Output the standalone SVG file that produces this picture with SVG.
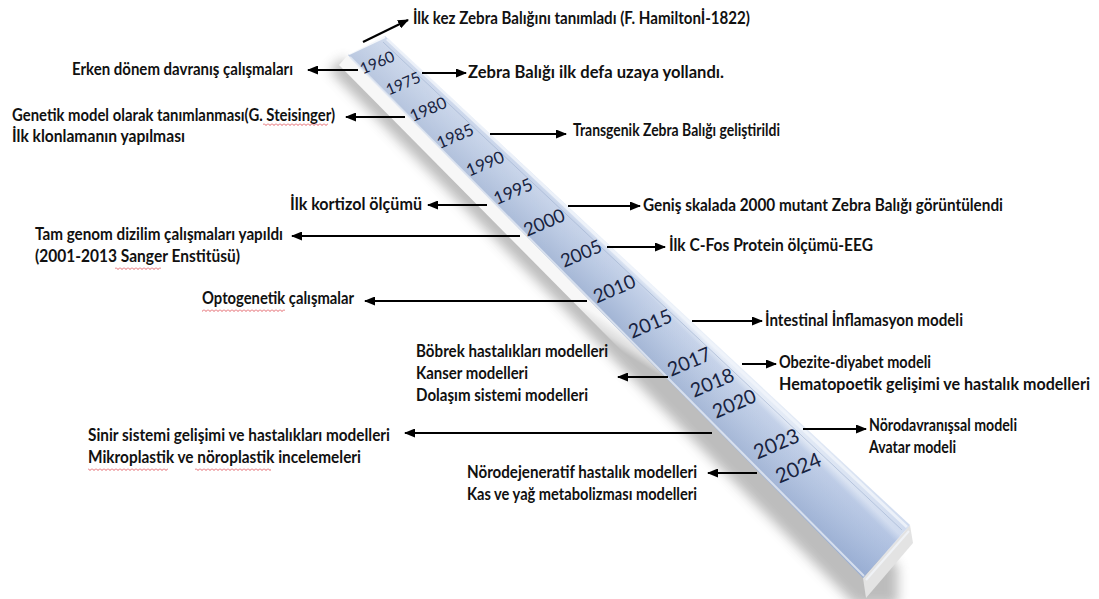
<svg xmlns="http://www.w3.org/2000/svg" width="1099" height="599" viewBox="0 0 1099 599">
<style>
.lbl{font-family:Lato,"Liberation Sans",sans-serif;font-weight:700;font-size:16.5px;fill:#111}
.yr{font-family:Lato,"Liberation Sans",sans-serif;font-weight:400;fill:#18233f;text-anchor:middle;dominant-baseline:central}
.con{stroke:#000;stroke-width:2.2;fill:none;marker-end:url(#ah)}
</style>
<defs>
<marker id="ah" markerUnits="userSpaceOnUse" markerWidth="11" markerHeight="9" refX="10" refY="4.5" orient="auto"><path d="M0,0 L11,4.5 L0,9 Z" fill="#000"/></marker>
<linearGradient id="face" gradientUnits="userSpaceOnUse" x1="589" y1="300" x2="627" y2="262">
<stop offset="0" stop-color="#a1b4d4"/>
<stop offset="0.45" stop-color="#b5c5e0"/>
<stop offset="0.85" stop-color="#c5d2e9"/>
<stop offset="1" stop-color="#e9eff8"/>
</linearGradient>
<linearGradient id="faceLen" gradientUnits="userSpaceOnUse" x1="365" y1="45" x2="885" y2="560">
<stop offset="0" stop-color="#ffffff" stop-opacity="0.25"/>
<stop offset="0.5" stop-color="#ffffff" stop-opacity="0"/>
<stop offset="1" stop-color="#7f9bd0" stop-opacity="0.25"/>
</linearGradient>
<linearGradient id="side" gradientUnits="userSpaceOnUse" x1="600" y1="316" x2="590" y2="332">
<stop offset="0" stop-color="#f7f7f7"/>
<stop offset="0.6" stop-color="#dedede"/>
<stop offset="1" stop-color="#bdbdbd"/>
</linearGradient>
<filter id="blur" x="-20%" y="-20%" width="140%" height="140%"><feGaussianBlur stdDeviation="6"/></filter>
<pattern id="wave" width="4" height="3" patternUnits="userSpaceOnUse"><path d="M0,0.5 L2,2.5 L4,0.5" stroke="#d9363e" stroke-width="0.8" fill="none"/></pattern>
</defs>
<rect width="1099" height="599" fill="#fff"/>

<g id="timeline-bar">
<polygon points="336,64 862,599 905,599 905,560 350,52" fill="#6d6d6d" opacity="0.45" filter="url(#blur)" transform="translate(-7,6)"/>
<polygon points="348,55 863,578 866,598 339,65" fill="url(#side)"/>
<polygon points="863,578 910,525 913,543 866,598" fill="#e3e3e3"/>
<polygon points="348,55 385,36 910,525 863,578" fill="url(#face)"/>
<polygon points="348,55 385,36 910,525 863,578" fill="url(#faceLen)"/>
<line x1="349" y1="54" x2="385" y2="37" stroke="#ffffff" stroke-width="2" opacity="0.8"/>
<line x1="387" y1="39" x2="907" y2="527" stroke="#f1f5fb" stroke-width="3" opacity="0.85"/>
<line x1="383" y1="42" x2="902" y2="530" stroke="#9fb1cf" stroke-width="1" opacity="0.6"/>
<line x1="350" y1="57" x2="864" y2="576" stroke="#e4eaf4" stroke-width="2" opacity="0.8"/>
<line x1="866" y1="580" x2="909" y2="531" stroke="#f3f6fb" stroke-width="2" opacity="0.8"/>
</g>

<g id="years">
<text class="yr" x="377" y="62" font-size="15.5" transform="rotate(-23 377 62)">1960</text>
<text class="yr" x="403" y="83" font-size="15.5" transform="rotate(-23 403 83)">1975</text>
<text class="yr" x="428" y="109" font-size="16.5" transform="rotate(-23 428 109)">1980</text>
<text class="yr" x="455" y="136" font-size="16.5" transform="rotate(-23 455 136)">1985</text>
<text class="yr" x="485" y="163" font-size="17" transform="rotate(-23 485 163)">1990</text>
<text class="yr" x="513" y="191" font-size="17.5" transform="rotate(-23 513 191)">1995</text>
<text class="yr" x="544" y="222" font-size="18.5" transform="rotate(-23 544 222)">2000</text>
<text class="yr" x="581" y="253" font-size="18.5" transform="rotate(-23 581 253)">2005</text>
<text class="yr" x="614" y="288" font-size="19" transform="rotate(-23 614 288)">2010</text>
<text class="yr" x="650" y="323" font-size="19.5" transform="rotate(-23 650 323)">2015</text>
<text class="yr" x="689" y="361" font-size="19.5" transform="rotate(-23 689 361)">2017</text>
<text class="yr" x="712" y="382" font-size="19.5" transform="rotate(-23 712 382)">2018</text>
<text class="yr" x="734" y="403" font-size="19.5" transform="rotate(-23 734 403)">2020</text>
<text class="yr" x="776" y="443" font-size="20.5" transform="rotate(-23 776 443)">2023</text>
<text class="yr" x="798" y="467" font-size="20.5" transform="rotate(-23 798 467)">2024</text>
</g>

<g id="connectors">
<line class="con" x1="363" y1="42" x2="408" y2="20"/>
<line class="con" x1="358" y1="70" x2="308" y2="70"/>
<line class="con" x1="422" y1="73" x2="466" y2="73"/>
<line class="con" x1="405" y1="117" x2="346" y2="117"/>
<line class="con" x1="490" y1="134" x2="566" y2="134"/>
<line class="con" x1="487" y1="205" x2="428" y2="205"/>
<line class="con" x1="568" y1="206" x2="640" y2="206"/>
<line class="con" x1="520" y1="236" x2="292" y2="236"/>
<line class="con" x1="607" y1="247" x2="665" y2="247"/>
<line class="con" x1="587" y1="301" x2="365" y2="301"/>
<line class="con" x1="692" y1="321" x2="762" y2="321"/>
<line class="con" x1="668" y1="377" x2="618" y2="377"/>
<line class="con" x1="742" y1="364" x2="776" y2="364"/>
<line class="con" x1="712" y1="433" x2="405" y2="433"/>
<line class="con" x1="803" y1="429" x2="866" y2="429"/>
<line class="con" x1="757" y1="473" x2="708" y2="473"/>
</g>

<g id="n1"><text class="lbl" x="413" y="24" textLength="337" lengthAdjust="spacingAndGlyphs">İlk kez Zebra Balığını tanımladı (F. Hamiltonİ-1822)</text></g>
<g id="n2"><text class="lbl" x="72" y="75" textLength="221" lengthAdjust="spacingAndGlyphs">Erken dönem davranış çalışmaları</text></g>
<g id="n3"><text class="lbl" x="468" y="78" textLength="256" lengthAdjust="spacingAndGlyphs">Zebra Balığı ilk defa uzaya yollandı.</text></g>
<g id="n4">
<text class="lbl" x="12" y="121" textLength="323" lengthAdjust="spacingAndGlyphs">Genetik model olarak tanımlanması(G. Steisinger)</text>
<text class="lbl" x="12" y="142" textLength="173" lengthAdjust="spacingAndGlyphs">İlk klonlamanın yapılması</text>
<rect x="263" y="123" width="65" height="3" fill="url(#wave)"/>
</g>
<g id="n5"><text class="lbl" x="573" y="136" textLength="207" lengthAdjust="spacingAndGlyphs">Transgenik Zebra Balığı geliştirildi</text></g>
<g id="n6"><text class="lbl" x="290" y="210" textLength="132" lengthAdjust="spacingAndGlyphs">İlk kortizol ölçümü</text></g>
<g id="n7"><text class="lbl" x="643" y="211" textLength="360" lengthAdjust="spacingAndGlyphs">Geniş skalada 2000 mutant Zebra Balığı görüntülendi</text></g>
<g id="n8">
<text class="lbl" x="35" y="240" textLength="248" lengthAdjust="spacingAndGlyphs">Tam genom dizilim çalışmaları yapıldı</text>
<text class="lbl" x="35" y="262" textLength="205" lengthAdjust="spacingAndGlyphs">(2001-2013 Sanger Enstitüsü)</text>
<rect x="115" y="267" width="46" height="3" fill="url(#wave)"/>
</g>
<g id="n9"><text class="lbl" x="669" y="251" textLength="204" lengthAdjust="spacingAndGlyphs">İlk C-Fos Protein ölçümü-EEG</text></g>
<g id="n10">
<text class="lbl" x="202" y="304" textLength="152" lengthAdjust="spacingAndGlyphs">Optogenetik çalışmalar</text>
<rect x="202" y="309" width="83" height="3" fill="url(#wave)"/>
</g>
<g id="n11"><text class="lbl" x="765" y="326" textLength="198" lengthAdjust="spacingAndGlyphs">İntestinal İnflamasyon modeli</text></g>
<g id="n12">
<text class="lbl" x="416" y="357" textLength="192" lengthAdjust="spacingAndGlyphs">Böbrek hastalıkları modelleri</text>
<text class="lbl" x="416" y="379" textLength="112" lengthAdjust="spacingAndGlyphs">Kanser modelleri</text>
<text class="lbl" x="416" y="401" textLength="172" lengthAdjust="spacingAndGlyphs">Dolaşım sistemi modelleri</text>
</g>
<g id="n13">
<text class="lbl" x="779" y="368" textLength="152" lengthAdjust="spacingAndGlyphs">Obezite-diyabet modeli</text>
<text class="lbl" x="779" y="390" textLength="311" lengthAdjust="spacingAndGlyphs">Hematopoetik gelişimi ve hastalık modelleri</text>
</g>
<g id="n14">
<text class="lbl" x="88" y="441" textLength="302" lengthAdjust="spacingAndGlyphs">Sinir sistemi gelişimi ve hastalıkları modelleri</text>
<text class="lbl" x="88" y="463" textLength="273" lengthAdjust="spacingAndGlyphs">Mikroplastik ve nöroplastik incelemeleri</text>
<rect x="88" y="468" width="80" height="3" fill="url(#wave)"/>
<rect x="195" y="468" width="76" height="3" fill="url(#wave)"/>
</g>
<g id="n15">
<text class="lbl" x="869" y="431" textLength="148" lengthAdjust="spacingAndGlyphs">Nörodavranışsal modeli</text>
<text class="lbl" x="869" y="453" textLength="87" lengthAdjust="spacingAndGlyphs">Avatar modeli</text>
</g>
<g id="n16">
<text class="lbl" x="467" y="478" textLength="230" lengthAdjust="spacingAndGlyphs">Nörodejeneratif hastalık modelleri</text>
<text class="lbl" x="467" y="500" textLength="230" lengthAdjust="spacingAndGlyphs">Kas ve yağ metabolizması modelleri</text>
</g>
</svg>
